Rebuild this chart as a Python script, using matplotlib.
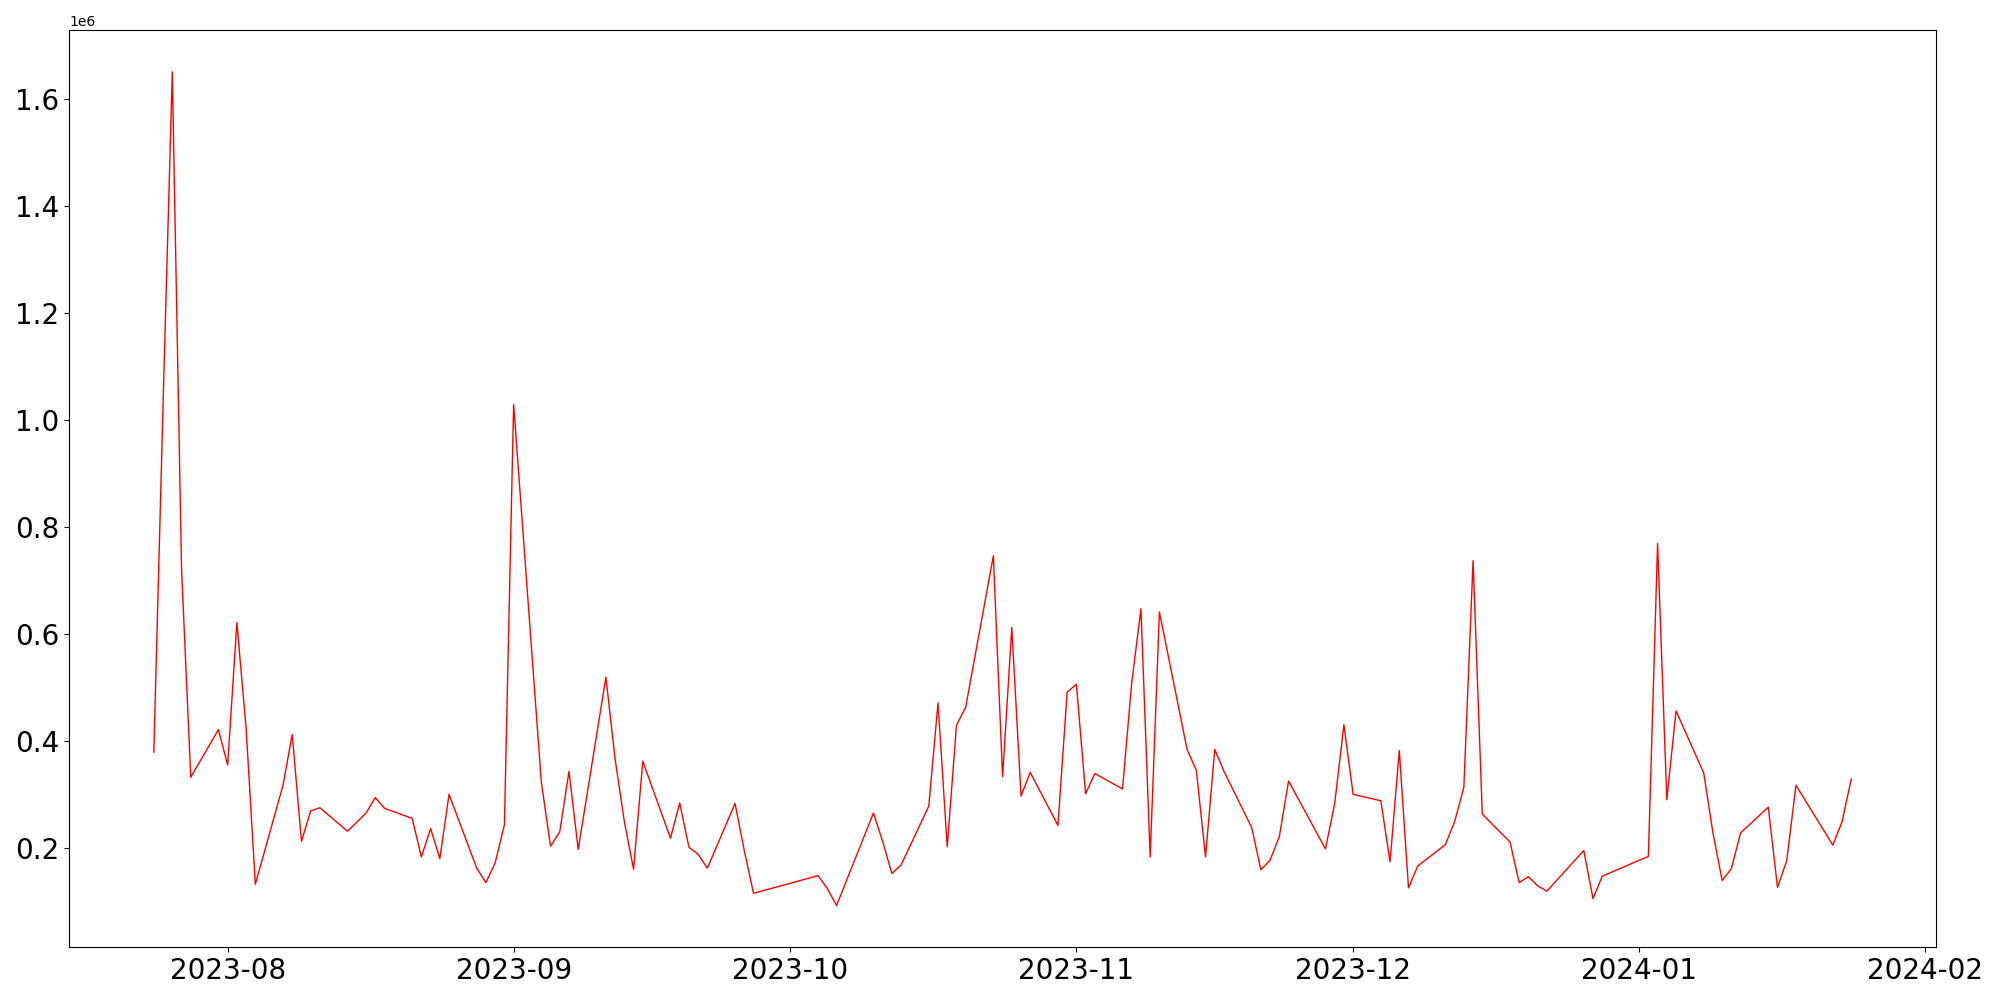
import numpy as np
import pandas as pd
import matplotlib

matplotlib.use("Agg")
import matplotlib.pyplot as plt

# trading days and daily values (millions)
dates = [
    "2023-07-24", "2023-07-25", "2023-07-26", "2023-07-27", "2023-07-28",
    "2023-07-31", "2023-08-01", "2023-08-02", "2023-08-03", "2023-08-04",
    "2023-08-07", "2023-08-08", "2023-08-09", "2023-08-10", "2023-08-11",
    "2023-08-14", "2023-08-16", "2023-08-17", "2023-08-18",
    "2023-08-21", "2023-08-22", "2023-08-23", "2023-08-24", "2023-08-25",
    "2023-08-28", "2023-08-29", "2023-08-30", "2023-08-31", "2023-09-01",
    "2023-09-04", "2023-09-05", "2023-09-06", "2023-09-07", "2023-09-08",
    "2023-09-11", "2023-09-12", "2023-09-13", "2023-09-14", "2023-09-15",
    "2023-09-18", "2023-09-19", "2023-09-20", "2023-09-21", "2023-09-22",
    "2023-09-25", "2023-09-26", "2023-09-27",
    "2023-10-04", "2023-10-05", "2023-10-06",
    "2023-10-10", "2023-10-11", "2023-10-12", "2023-10-13",
    "2023-10-16", "2023-10-17", "2023-10-18", "2023-10-19", "2023-10-20",
    "2023-10-23", "2023-10-24", "2023-10-25", "2023-10-26", "2023-10-27",
    "2023-10-30", "2023-10-31", "2023-11-01", "2023-11-02", "2023-11-03",
    "2023-11-06", "2023-11-07", "2023-11-08", "2023-11-09", "2023-11-10",
    "2023-11-13", "2023-11-14", "2023-11-15", "2023-11-16", "2023-11-17",
    "2023-11-20", "2023-11-21", "2023-11-22", "2023-11-23", "2023-11-24",
    "2023-11-28", "2023-11-29", "2023-11-30", "2023-12-01",
    "2023-12-04", "2023-12-05", "2023-12-06", "2023-12-07", "2023-12-08",
    "2023-12-11", "2023-12-12", "2023-12-13", "2023-12-14", "2023-12-15",
    "2023-12-18", "2023-12-19", "2023-12-20", "2023-12-21", "2023-12-22",
    "2023-12-26", "2023-12-27", "2023-12-28",
    "2024-01-02", "2024-01-03", "2024-01-04", "2024-01-05",
    "2024-01-08", "2024-01-09", "2024-01-10", "2024-01-11", "2024-01-12",
    "2024-01-15", "2024-01-16", "2024-01-17", "2024-01-18",
    "2024-01-22", "2024-01-23", "2024-01-24",
]
values_m = [
    0.379, 1.03, 1.651, 0.723, 0.332,
    0.421, 0.355, 0.621, 0.424, 0.132,
    0.317, 0.412, 0.212, 0.269, 0.275,
    0.231, 0.265, 0.294, 0.274,
    0.255, 0.183, 0.236, 0.180, 0.300,
    0.162, 0.135, 0.172, 0.243, 1.029,
    0.323, 0.203, 0.230, 0.343, 0.197,
    0.519, 0.366, 0.249, 0.160, 0.362,
    0.218, 0.284, 0.201, 0.188, 0.162,
    0.283, 0.195, 0.115,
    0.148, 0.124, 0.092,
    0.265, 0.212, 0.152, 0.168,
    0.278, 0.471, 0.202, 0.429, 0.463,
    0.746, 0.333, 0.612, 0.297, 0.341,
    0.242, 0.491, 0.506, 0.301, 0.339,
    0.310, 0.509, 0.647, 0.183, 0.641,
    0.384, 0.345, 0.183, 0.384, 0.343,
    0.238, 0.159, 0.177, 0.221, 0.325,
    0.198, 0.283, 0.430, 0.300,
    0.288, 0.174, 0.382, 0.125, 0.166,
    0.206, 0.249, 0.313, 0.737, 0.263,
    0.211, 0.135, 0.146, 0.129, 0.119,
    0.195, 0.105, 0.147,
    0.184, 0.769, 0.290, 0.456,
    0.340, 0.228, 0.139, 0.161, 0.228,
    0.276, 0.126, 0.176, 0.317,
    0.205, 0.249, 0.329,
]

df = pd.DataFrame({"date": pd.to_datetime(dates), "value": np.array(values_m) * 1e6})

fig, ax = plt.subplots(figsize=(20, 10), dpi=100)
ax.plot(df["date"], df["value"], color="red", linewidth=1.0)
ax.tick_params(axis="both", labelsize=20)

fig.tight_layout()
fig.savefig("out.png")
